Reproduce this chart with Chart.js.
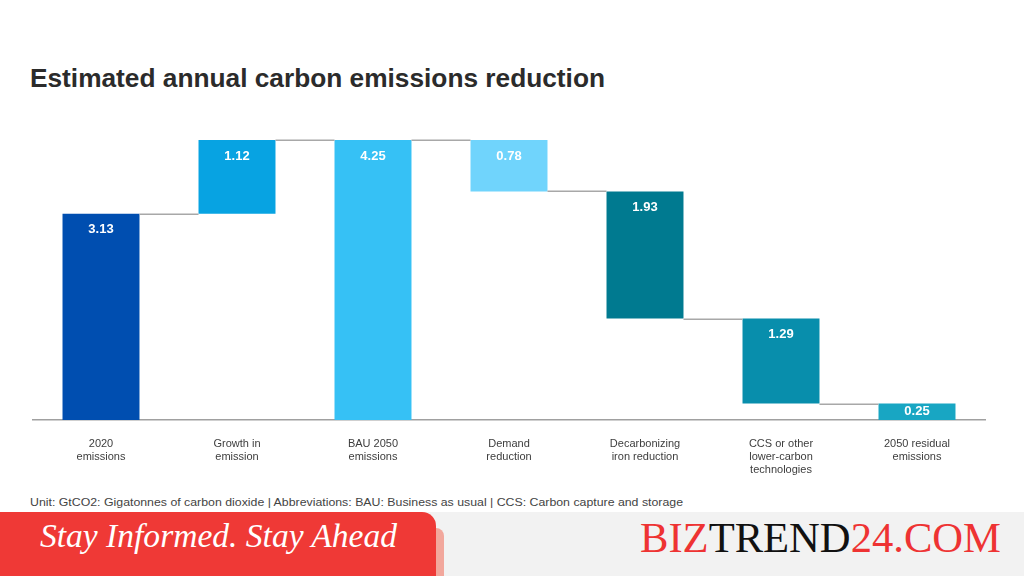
<!DOCTYPE html>
<html><head><meta charset="utf-8">
<script src="https://cdn.jsdelivr.net/npm/chart.js@4.4.1/dist/chart.umd.min.js"></script>
<style>
html,body{margin:0;padding:0;background:#fff;width:1024px;height:576px;overflow:hidden;position:relative;font-family:"Liberation Sans",Arial,sans-serif;}
#title{position:absolute;left:30px;top:62px;font-weight:bold;font-size:26.5px;line-height:32px;color:#2b2b2b;white-space:nowrap;transform-origin:0 0;}
#wrap{position:absolute;left:0;top:0;width:1024px;height:490px;}
#note{position:absolute;left:30px;top:494.5px;font-size:11px;line-height:14px;color:#444;white-space:nowrap;transform-origin:0 0;}
#band{position:absolute;left:0;top:512px;width:1024px;height:64px;background:#f2f2f2;}
#shadow{position:absolute;left:428px;top:528px;width:16px;height:48px;background:#f2a79c;border-top-right-radius:8px;}
#red{position:absolute;left:0;top:512px;width:436px;height:64px;background:#ef3936;border-top-right-radius:14px;}
#slogan{position:absolute;left:40px;top:516px;font-family:"Liberation Serif",serif;font-style:italic;font-size:34px;line-height:40px;color:#fff;white-space:nowrap;transform-origin:0 0;}
#brand{position:absolute;left:640px;top:513.5px;font-family:"Liberation Serif",serif;font-size:42px;line-height:48px;color:#ee3333;white-space:nowrap;transform-origin:0 0;}
#brand .k{color:#111;}
</style>
</head>
<body>
<div id="title">Estimated annual carbon emissions reduction</div>
<div id="wrap"><canvas id="c" width="1024" height="490"></canvas></div>
<div id="note">Unit: GtCO2: Gigatonnes of carbon dioxide | Abbreviations: BAU: Business as usual | CCS: Carbon capture and storage</div>
<div id="band"></div>
<div id="shadow"></div>
<div id="red"></div>
<div id="slogan">Stay Informed. Stay Ahead</div>
<div id="brand">BIZ<span class="k">TREND</span>24.COM</div>
<script>
const categories = [["2020","emissions"],["Growth in","emission"],["BAU 2050","emissions"],["Demand","reduction"],["Decarbonizing","iron reduction"],["CCS or other","lower-carbon","technologies"],["2050 residual","emissions"]];
const values = [3.13, 1.12, 4.25, 0.78, 1.93, 1.29, 0.25];
const steps = ["total","increase","total","decrease","decrease","decrease","total"];
const barColors = ["#004eb0","#07a3e2","#36c1f5","#70d4fc","#007a90","#088eac","#18a6c3"];

const r2 = v => Math.round(v*100)/100;
let level = 0;
const ranges = [], levels = [];
values.forEach((v,i)=>{
  if (steps[i]==="total") { ranges.push([0,v]); level = v; }
  else if (steps[i]==="increase") { ranges.push([r2(level), r2(level+v)]); level = r2(level+v); }
  else { ranges.push([r2(level-v), r2(level)]); level = r2(level-v); }
  levels.push(level);
});

function fit(id, w){
  const el = document.getElementById(id);
  const cw = el.getBoundingClientRect().width;
  el.style.transform = 'scaleX(' + (w/cw) + ')';
}
fit('title', 575); fit('note', 653); fit('slogan', 357); fit('brand', 361);

const connectors = {
  id:'connectors',
  afterDatasetsDraw(chart){
    const ctx = chart.ctx, meta = chart.getDatasetMeta(0), y = chart.scales.y;
    ctx.save();
    ctx.strokeStyle = '#a8a8a8'; ctx.lineWidth = 1.5;
    for (let i=0;i<meta.data.length-1;i++){
      const a = meta.data[i], b = meta.data[i+1];
      const py = Math.round(y.getPixelForValue(levels[i])) + 0.25;
      ctx.beginPath();
      ctx.moveTo(a.x + a.width/2, py);
      ctx.lineTo(b.x - b.width/2, py);
      ctx.stroke();
    }
    ctx.restore();
  }
};
const valueLabels = {
  id:'valueLabels',
  afterDatasetsDraw(chart){
    const ctx = chart.ctx, meta = chart.getDatasetMeta(0);
    ctx.save();
    ctx.fillStyle = '#ffffff';
    ctx.font = 'bold 13px "Liberation Sans", Arial, sans-serif';
    ctx.textAlign = 'center'; ctx.textBaseline = 'middle';
    meta.data.forEach((el,i)=>{
      const top = Math.min(el.y, el.base), bot = Math.max(el.y, el.base);
      const ty = Math.min(top + 16, (top+bot)/2);
      ctx.fillText(values[i].toFixed(2), el.x, ty);
    });
    ctx.restore();
  }
};

new Chart(document.getElementById('c'), {
  type:'bar',
  data:{ labels: categories, datasets:[{ data: ranges, backgroundColor: barColors, borderWidth:0, barPercentage:0.566, categoryPercentage:1 }] },
  options:{
    responsive:false, animation:false,
    layout:{ padding:{ top:140, left:33, right:39, bottom:0 } },
    plugins:{ legend:{display:false}, tooltip:{enabled:false} },
    scales:{
      x:{
        grid:{ display:false, drawTicks:false },
        border:{ display:true, color:'#a0a0a0', width:1.5 },
        ticks:{ color:'#3d3d3d', padding:17, maxRotation:0, autoSkip:false, font:{ family:'"Liberation Sans", Arial, sans-serif', size:11, lineHeight:1.2 } },
        afterFit(s){ s.height = 70; }
      },
      y:{ display:false, min:0, max:4.25 }
    }
  },
  plugins:[connectors, valueLabels]
});
</script>
</body></html>
